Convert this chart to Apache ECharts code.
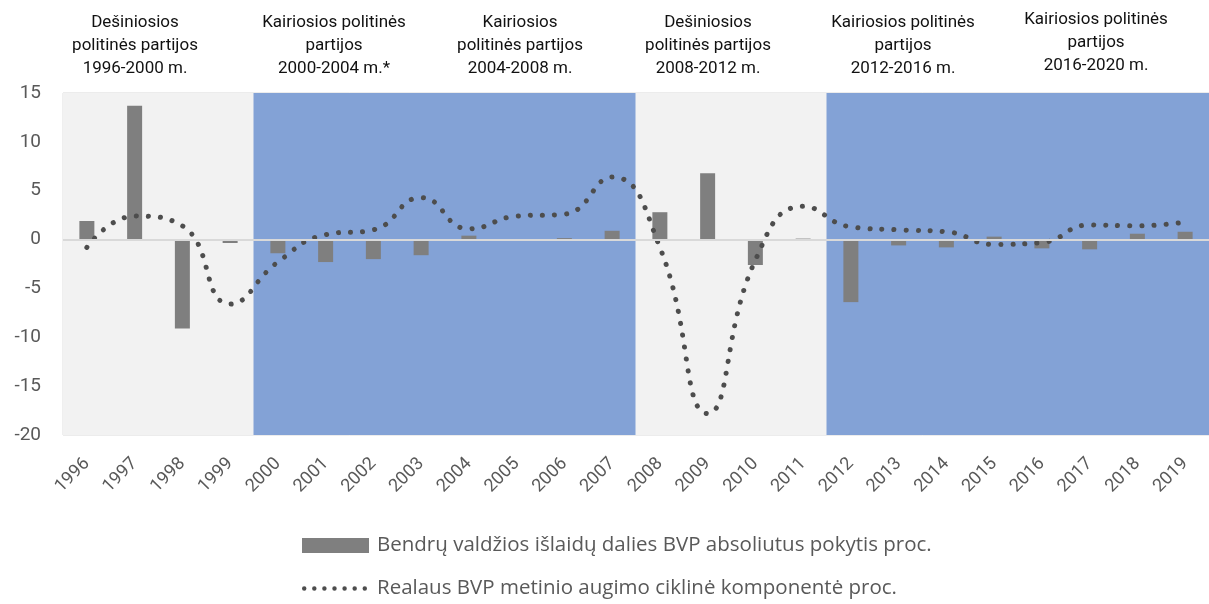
<!DOCTYPE html>
<html>
<head>
<meta charset="utf-8">
<title>Išlaidų pokytis ir BVP ciklinė komponentė</title>
<script src="https://cdn.jsdelivr.net/npm/echarts@6/dist/echarts.min.js"></script>
<style>
  html, body { margin: 0; padding: 0; background: #fff; }
  #chart { width: 1209px; height: 604px; }
</style>
</head>
<body>
<div id="chart"></div>
<script>
// metai
const years = ['1996', '1997', '1998', '1999', '2000', '2001', '2002', '2003', '2004', '2005', '2006', '2007',
  '2008', '2009', '2010', '2011', '2012', '2013', '2014', '2015', '2016', '2017', '2018', '2019']

// Bendrų valdžios išlaidų dalies BVP absoliutus pokytis, proc.
const spendingChange = [1.9, 13.7, -9.1, -0.35, -1.4, -2.3, -2.0, -1.6, 0.4, 0.05, 0.15, 0.9,
  2.8, 6.8, -2.6, 0.1, -6.4, -0.6, -0.8, 0.3, -0.9, -1.0, 0.6, 0.8]

// Realaus BVP metinio augimo ciklinė komponentė, proc.
const cyclicalGdp = [-0.8, 2.4, 1.4, -6.6, -2.3, 0.5, 1.0, 4.3, 1.1, 2.4, 2.6, 6.4,
  -0.8, -17.8, -2.1, 3.4, 1.3, 1.0, 0.8, -0.5, -0.3, 1.5, 1.4, 1.8]

// valdančiosios partijos kiekvienais metais: R - dešiniosios, L - kairiosios
const rulingSide = ['R', 'R', 'R', 'R', 'L', 'L', 'L', 'L', 'L', 'L', 'L', 'L',
  'R', 'R', 'R', 'R', 'L', 'L', 'L', 'L', 'L', 'L', 'L', 'L']

const periodLabels = [
  'Dešiniosios\npolitinės partijos\n1996-2000 m.',
  'Kairiosios politinės\npartijos\n2000-2004 m.*',
  'Kairiosios\npolitinės partijos\n2004-2008 m.',
  'Dešiniosios\npolitinės partijos\n2008-2012 m.',
  'Kairiosios politinės\npartijos\n2012-2016 m.',
  'Kairiosios politinės\npartijos\n2016-2020 m.'
]

const yTicks = { min: -20, max: 15, interval: 5 }

const barName = 'Bendrų valdžios išlaidų dalies BVP absoliutus pokytis proc.'
const lineName = 'Realaus BVP metinio augimo ciklinė komponentė proc.'

const FONT = 'Roboto, "Noto Sans", sans-serif'
const LEGEND_FONT = '"Open Sans", Roboto, sans-serif'
const textGray = '#595959'

function bandColor(side) {
  return side === 'R' ? '#f2f2f2' : '#83a2d6'
}

// legend icon: septyni taškeliai
function dotsPath() {
  let p = ''
  for (let i = 0; i < 7; i++) {
    const cx = 2.3 + i * 10.4
    p += 'M' + (cx - 2.3) + ',2.3a2.3,2.3 0 1,0 4.6,0a2.3,2.3 0 1,0 -4.6,0'
  }
  return 'path://' + p
}

// fono juosta per visą kategorijos plotį
function renderBand(params, api) {
  const i = api.value(0)
  const top = api.coord([i, yTicks.max])
  const bottom = api.coord([i, yTicks.min])
  const w = api.size([1, 0])[0]
  return {
    type: 'rect',
    shape: { x: top[0] - w / 2 - 0.5, y: top[1], width: w + 1, height: bottom[1] - top[1] },
    style: { fill: api.visual('color') }
  }
}

const labelX = [135, 334, 520, 708, 903, 1096]
const labelY = [11, 11, 11, 11, 11, 8]

const chart = echarts.init(document.getElementById('chart'))

chart.setOption({
  animation: false,
  textStyle: { fontFamily: FONT },
  grid: {
    left: 63,
    right: -3,
    top: 93,
    bottom: 169,
    show: true,
    borderColor: '#d9d9d9',
    borderWidth: 1,
    backgroundColor: 'transparent'
  },
  graphic: periodLabels.map((t, i) => ({
    type: 'text',
    x: labelX[i],
    y: labelY[i],
    silent: true,
    style: {
      text: t,
      textAlign: 'center',
      font: '17px ' + FONT,
      fill: '#111',
      lineHeight: 23
    }
  })),
  legend: [
    {
      left: 302,
      top: 535,
      padding: 0,
      itemWidth: 67,
      itemHeight: 15,
      icon: 'rect',
      data: [barName],
      textStyle: { fontFamily: LEGEND_FONT, fontSize: 20.5, color: textGray, padding: [0, 0, 0, 3] }
    },
    {
      left: 302,
      top: 578,
      padding: 0,
      itemWidth: 65,
      itemHeight: 4.6,
      data: [{ name: lineName, icon: dotsPath() }],
      itemStyle: { borderWidth: 0 },
      textStyle: { fontFamily: LEGEND_FONT, fontSize: 20.5, color: textGray, padding: [0, 0, 0, 5] }
    }
  ],
  xAxis: {
    type: 'category',
    data: years,
    axisLine: { show: false, onZero: false },
    axisTick: { show: false },
    axisLabel: { rotate: 45, fontSize: 18, color: textGray, margin: 26 }
  },
  yAxis: {
    type: 'value',
    min: yTicks.min,
    max: yTicks.max,
    interval: yTicks.interval,
    axisLine: { show: false },
    axisTick: { show: false },
    splitLine: { show: false },
    axisLabel: { fontSize: 19, color: textGray, margin: 22 }
  },
  series: [
    {
      name: 'fonas',
      type: 'custom',
      silent: true,
      z: 0,
      renderItem: renderBand,
      encode: { x: 0 },
      data: rulingSide.map((s, i) => ({ value: [i], itemStyle: { color: bandColor(s) } }))
    },
    {
      name: barName,
      type: 'bar',
      data: spendingChange,
      barWidth: 15,
      z: 2,
      itemStyle: { color: '#7f7f7f' },
      markLine: {
        silent: true,
        symbol: 'none',
        label: { show: false },
        lineStyle: { color: '#d9d9d9', width: 2, type: 'solid' },
        data: [{ yAxis: 0 }]
      }
    },
    {
      name: lineName,
      type: 'line',
      data: cyclicalGdp,
      smooth: true,
      symbol: 'none',
      z: 3,
      color: '#4d4d4d',
      lineStyle: { color: '#4d4d4d', width: 5, type: [0.1, 12], cap: 'round' }
    }
  ]
})
</script>
</body>
</html>
